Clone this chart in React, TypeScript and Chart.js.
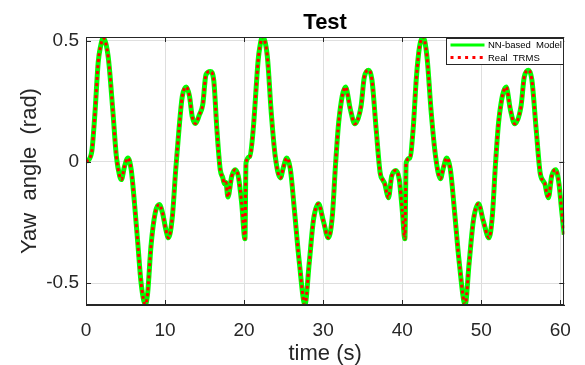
import React, { useEffect, useRef } from 'react';
import { Chart, registerables } from 'chart.js';

Chart.register(...registerables);

// ---- data ----
const timeSec = [
  0, 0.7, 1.13, 1.54, 1.84, 2.17, 2.8, 3.42, 3.84, 4.26, 4.47, 4.88, 5.3, 5.72, 6.13, 6.55, 6.97, 7.51, 7.8,
  8.22, 8.76, 9.26, 9.68, 10.1, 10.43, 10.93, 11.35, 11.76, 12.18, 12.68, 13.1, 13.43, 13.85, 14.35, 14.77,
  15.18, 15.73, 16.15, 16.56, 16.98, 17.3, 17.5, 17.7, 17.95, 18.44, 18.86, 19.27, 19.69, 20.11, 20.24, 20.74,
  21.15, 21.78, 22.0, 22.32, 22.94, 23.44, 23.94, 24.6, 24.95, 25.4, 25.86, 26.36, 26.99, 27.7, 28.24, 28.78,
  29.41, 30.04, 30.66, 31.16, 31.58, 32.0, 32.83, 33.45, 34.0, 34.79, 35.21, 35.76, 36.17, 36.71, 37.21, 37.55,
  37.8, 38.05, 38.26, 38.67, 39.21, 39.63, 40.0, 40.34, 40.5, 40.96, 41.38, 41.8, 42.2, 42.63, 43.13, 43.68,
  44.22, 44.84, 45.2, 45.64, 46.1, 46.6, 47.22, 47.97, 48.47, 49.02, 49.65, 50.27, 50.98, 51.4, 51.81, 52.23,
  53.15, 53.69, 54.23, 55.03, 55.44, 55.98, 56.4, 56.95, 57.45, 57.86, 58.05, 58.28, 58.49, 58.91, 59.41,
  59.82, 60.16, 60.5,
];

const yawModel = [
  0, 0.037, 0.2, 0.41, 0.476, 0.51, 0.435, 0.2, 0.023, -0.059, -0.073, -0.018, 0.016, -0.032, -0.169, -0.334,
  -0.499, -0.588, -0.54, -0.348, -0.21, -0.176, -0.21, -0.279, -0.313, -0.224, -0.032, 0.133, 0.27, 0.309,
  0.27, 0.188, 0.158, 0.195, 0.236, 0.36, 0.373, 0.339, 0.133, -0.032, -0.065, -0.09, -0.085, -0.145, -0.059,
  -0.032, -0.059, -0.169, -0.317, -0.004, 0.023, 0.133, 0.42, 0.476, 0.515, 0.435, 0.2, 0.023, -0.066, -0.025,
  0.016, -0.032, -0.197, -0.416, -0.588, -0.416, -0.238, -0.173, -0.245, -0.313, -0.224, -0.004, 0.174, 0.309,
  0.215, 0.157, 0.229, 0.35, 0.378, 0.339, 0.133, -0.045, -0.075, -0.09, -0.128, -0.148, -0.059, -0.035,
  -0.073, -0.197, -0.317, -0.004, 0.016, 0.133, 0.35, 0.476, 0.515, 0.435, 0.2, 0.023, -0.069, -0.025, 0.016,
  -0.032, -0.197, -0.416, -0.588, -0.416, -0.238, -0.173, -0.245, -0.313, -0.224, -0.004, 0.174, 0.309, 0.215,
  0.157, 0.229, 0.35, 0.378, 0.339, 0.133, -0.045, -0.08, -0.09, -0.128, -0.148, -0.059, -0.032, -0.087,
  -0.197, -0.3,
];

// The measured TRMS response lies on top of the model response in the picture.
const yawReal = yawModel;

const xTickValues = [0, 10, 20, 30, 40, 50, 60];
const yTickValues = [-0.5, 0, 0.5];
const seriesLabels = ['NN-based  Model', 'Real  TRMS'];
const chartTitle = 'Test';
const xAxisTitle = 'time (s)';
const yAxisTitle = 'Yaw  angle  (rad)';

const FONT = '"Liberation Sans", Arial, Helvetica, sans-serif';
const AXIS_COLOR = '#262626';

const framePlugin = {
  id: 'matlabFrame',
  afterDraw(chart: any) {
    const { ctx, chartArea: a, scales } = chart;
    ctx.save();
    ctx.strokeStyle = AXIS_COLOR;
    ctx.lineWidth = 1;
    ctx.beginPath();
    ctx.moveTo(a.left, Math.round(a.top) + 0.5);
    ctx.lineTo(a.right, Math.round(a.top) + 0.5);
    ctx.moveTo(Math.round(a.right) - 0.5, a.top);
    ctx.lineTo(Math.round(a.right) - 0.5, a.bottom);
    ctx.moveTo(Math.round(a.left) + 0.5, a.top);
    ctx.lineTo(Math.round(a.left) + 0.5, a.bottom);
    ctx.moveTo(a.left, Math.round(a.bottom) - 0.5);
    ctx.lineTo(a.right, Math.round(a.bottom) - 0.5);
    const tl = 5;
    xTickValues.forEach((v) => {
      const px = Math.round(scales.x.getPixelForValue(v)) + 0.5;
      ctx.moveTo(px, a.bottom);
      ctx.lineTo(px, a.bottom - tl);
      ctx.moveTo(px, a.top);
      ctx.lineTo(px, a.top + tl);
    });
    yTickValues.forEach((v) => {
      const py = Math.round(scales.y.getPixelForValue(v)) + 0.5;
      ctx.moveTo(a.left, py);
      ctx.lineTo(a.left + tl, py);
      ctx.moveTo(a.right, py);
      ctx.lineTo(a.right - tl, py);
    });
    ctx.stroke();

    // title
    ctx.fillStyle = '#000';
    ctx.font = `bold 22px ${FONT}`;
    ctx.textAlign = 'center';
    ctx.textBaseline = 'alphabetic';
    ctx.fillText(chartTitle, (a.left + a.right) / 2, 28.5);

    // legend
    const lw = 117;
    const lh = 26;
    const lx = Math.round(a.right) - lw - 0.5;
    const ly = Math.round(a.top) + 1.5;
    ctx.fillStyle = '#fff';
    ctx.fillRect(lx, ly, lw, lh);
    ctx.strokeStyle = AXIS_COLOR;
    ctx.lineWidth = 1;
    ctx.strokeRect(lx, ly, lw, lh);
    const row1 = ly + 6.5;
    const row2 = ly + 19;
    ctx.lineWidth = 3;
    ctx.strokeStyle = '#00ff00';
    ctx.beginPath();
    ctx.moveTo(lx + 4, row1);
    ctx.lineTo(lx + 38, row1);
    ctx.stroke();
    ctx.strokeStyle = '#ff0000';
    ctx.setLineDash([3, 4.3]);
    ctx.beginPath();
    ctx.moveTo(lx + 4, row2);
    ctx.lineTo(lx + 38, row2);
    ctx.stroke();
    ctx.setLineDash([]);
    ctx.fillStyle = '#000';
    ctx.font = `9.5px ${FONT}`;
    ctx.textAlign = 'left';
    ctx.textBaseline = 'middle';
    ctx.fillText(seriesLabels[0], lx + 41.5, row1 + 0.5);
    ctx.fillText(seriesLabels[1], lx + 41.5, row2 + 0.5);
    ctx.restore();
  },
};

export default function App() {
  const canvasRef = useRef<HTMLCanvasElement | null>(null);

  useEffect(() => {
    const canvas = canvasRef.current;
    if (!canvas) return;
    const modelPoints = timeSec.map((t, i) => ({ x: t, y: yawModel[i] }));
    const realPoints = timeSec.map((t, i) => ({ x: t, y: yawReal[i] }));

    const chart = new Chart(canvas, {
      type: 'line',
      data: {
        datasets: [
          {
            label: seriesLabels[0],
            data: modelPoints,
            borderColor: '#00ff00',
            backgroundColor: '#00ff00',
            borderWidth: 5,
            pointRadius: 0,
            cubicInterpolationMode: 'monotone',
            order: 2,
          },
          {
            label: seriesLabels[1],
            data: realPoints,
            borderColor: '#ff0000',
            backgroundColor: '#ff0000',
            borderWidth: 3,
            borderDash: [3, 3],
            pointRadius: 0,
            cubicInterpolationMode: 'monotone',
            order: 1,
          },
        ],
      },
      options: {
        responsive: false,
        animation: false,
        devicePixelRatio: 1,
        layout: { padding: { top: 37, right: 16, left: 0, bottom: 0 } },
        plugins: {
          legend: { display: false },
          title: { display: false },
          tooltip: { enabled: false },
        },
        scales: {
          x: {
            type: 'linear',
            min: 0,
            max: 60.5,
            afterBuildTicks: (scale: any) => {
              scale.ticks = xTickValues.map((v) => ({ value: v }));
            },
            afterFit: (scale: any) => {
              scale.height = 60;
            },
            grid: { color: '#dfdfdf', drawTicks: false, tickLength: 0 },
            border: { display: true, color: AXIS_COLOR, width: 1 },
            ticks: {
              padding: 14,
              maxRotation: 0,
              autoSkip: false,
              color: AXIS_COLOR,
              font: { family: FONT, size: 19 },
              callback: (v: any) => String(v),
            },
            title: {
              display: true,
              text: xAxisTitle,
              color: AXIS_COLOR,
              font: { family: FONT, size: 22, lineHeight: 1 },
              padding: { top: 0, bottom: 0 },
            },
          },
          y: {
            type: 'linear',
            min: -0.59,
            max: 0.515,
            afterBuildTicks: (scale: any) => {
              scale.ticks = yTickValues.map((v) => ({ value: v }));
            },
            afterFit: (scale: any) => {
              scale.width = 86;
            },
            grid: { color: '#dfdfdf', drawTicks: false, tickLength: 0 },
            border: { display: true, color: AXIS_COLOR, width: 1 },
            ticks: {
              padding: 7,
              autoSkip: false,
              color: AXIS_COLOR,
              font: { family: FONT, size: 19 },
              callback: (v: any) => String(v),
            },
            title: {
              display: true,
              text: yAxisTitle,
              color: AXIS_COLOR,
              font: { family: FONT, size: 22, lineHeight: 1 },
              padding: { top: 19, bottom: 0 },
            },
          },
        },
      },
      plugins: [framePlugin],
    });

    return () => {
      chart.destroy();
    };
  }, []);

  return (
    <div style={{ position: 'fixed', left: 0, top: 0, width: 585, height: 365, background: '#fff' }}>
      <canvas ref={canvasRef} width={585} height={365} style={{ display: 'block' }} />
    </div>
  );
}
